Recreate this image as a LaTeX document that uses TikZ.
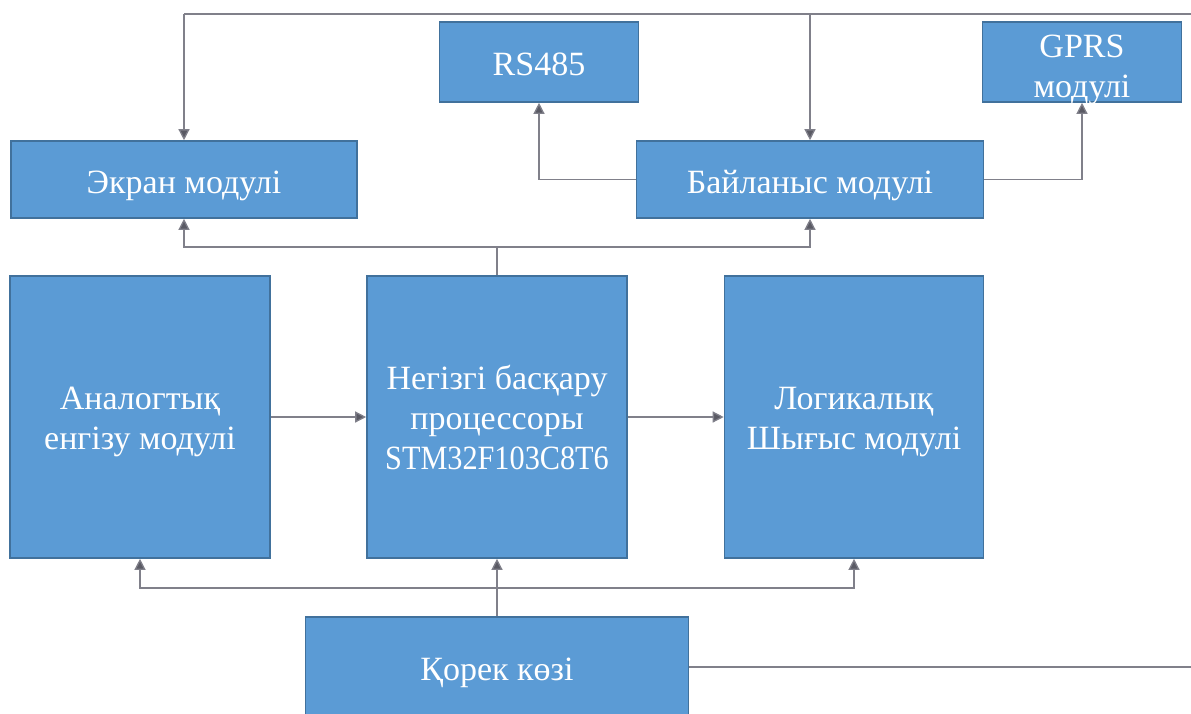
\documentclass[tikz,border=0pt]{standalone}
\usepackage{fontspec}
\setmainfont{Liberation Serif}
\usetikzlibrary{arrows.meta}
\definecolor{boxfill}{HTML}{5B9BD5}
\definecolor{boxline}{HTML}{41719C}
\definecolor{wire}{HTML}{80808A}
\definecolor{tipc}{HTML}{5A5A64}
\newcommand{\lowtext}[2]{\raisebox{-#1}[\height][\depth]{\begin{tabular}{@{}c@{}}#2\end{tabular}}}
\tikzset{
  box/.style={draw=boxline, line width=1.6pt, fill=boxfill, text=white, align=center,
    inner sep=0pt, font=\fontsize{34}{40}\selectfont},
  oneline/.style={text height=27pt, text depth=0pt},
  wireline/.style={draw=wire, line width=1.3pt},
  arr/.style={wireline, -{Triangle[width=11pt,length=11pt,fill=tipc]}}
}
\begin{document}
\begin{tikzpicture}[x=1pt,y=-1pt]
\useasboundingbox (0,0) rectangle (1191,713);
% nodes
\node[box, oneline, minimum width=346pt, minimum height=77pt] (ekran) at (184,179.5) {Экран модулі};
\node[box, oneline, minimum width=199pt, minimum height=80pt] (rs) at (539,62) {RS485};
\node[box, minimum width=199pt, minimum height=80pt] (gprs) at (1082,62) {\lowtext{7pt}{GPRS\\модулі}};
\node[box, oneline, minimum width=347pt, minimum height=77pt] (bail) at (810,179.5) {Байланыс модулі};
\node[box, minimum width=260pt, minimum height=282pt] (anal) at (140,417) {\lowtext{4pt}{Аналогтық\\енгізу модулі}};
\node[box, minimum width=260pt, minimum height=282pt] (cpu) at (497,417) {Негізгі басқару\\процессоры\\\scalebox{0.89}[1]{STM32F103C8T6}};
\node[box, minimum width=259pt, minimum height=282pt] (logic) at (854,417) {\lowtext{4pt}{Логикалық\\Шығыс модулі}};
\node[box, oneline, minimum width=383pt, minimum height=100pt] (power) at (497,667) {Қорек көзі};
% coordinates
\coordinate (topR) at (1191,14);
\coordinate (pwrR) at (1191,667);
% top bus
\draw[wireline] (topR) -- (184,14);
\draw[arr] (184,14) -- (ekran.north);
\draw[arr] (810,14) -- (bail.north);
% bail to rs / gprs
\draw[arr] (bail.west) -| (rs.south);
\draw[arr] (bail.east) -| (gprs.south);
% cpu up to ekran and bail
\draw[wireline] (cpu.north) -- (497,247);
\draw[arr] (497,247) -| (ekran.south);
\draw[arr] (497,247) -| (bail.south);
% horizontal
\draw[arr] (anal.east) -- (cpu.west);
\draw[arr] (cpu.east) -- (logic.west);
% power
\draw[arr] (power.north) -- (cpu.south);
\draw[arr] (497,588) -| (anal.south);
\draw[arr] (497,588) -| (logic.south);
\draw[wireline] (power.east) -- (pwrR);
\end{tikzpicture}
\end{document}
